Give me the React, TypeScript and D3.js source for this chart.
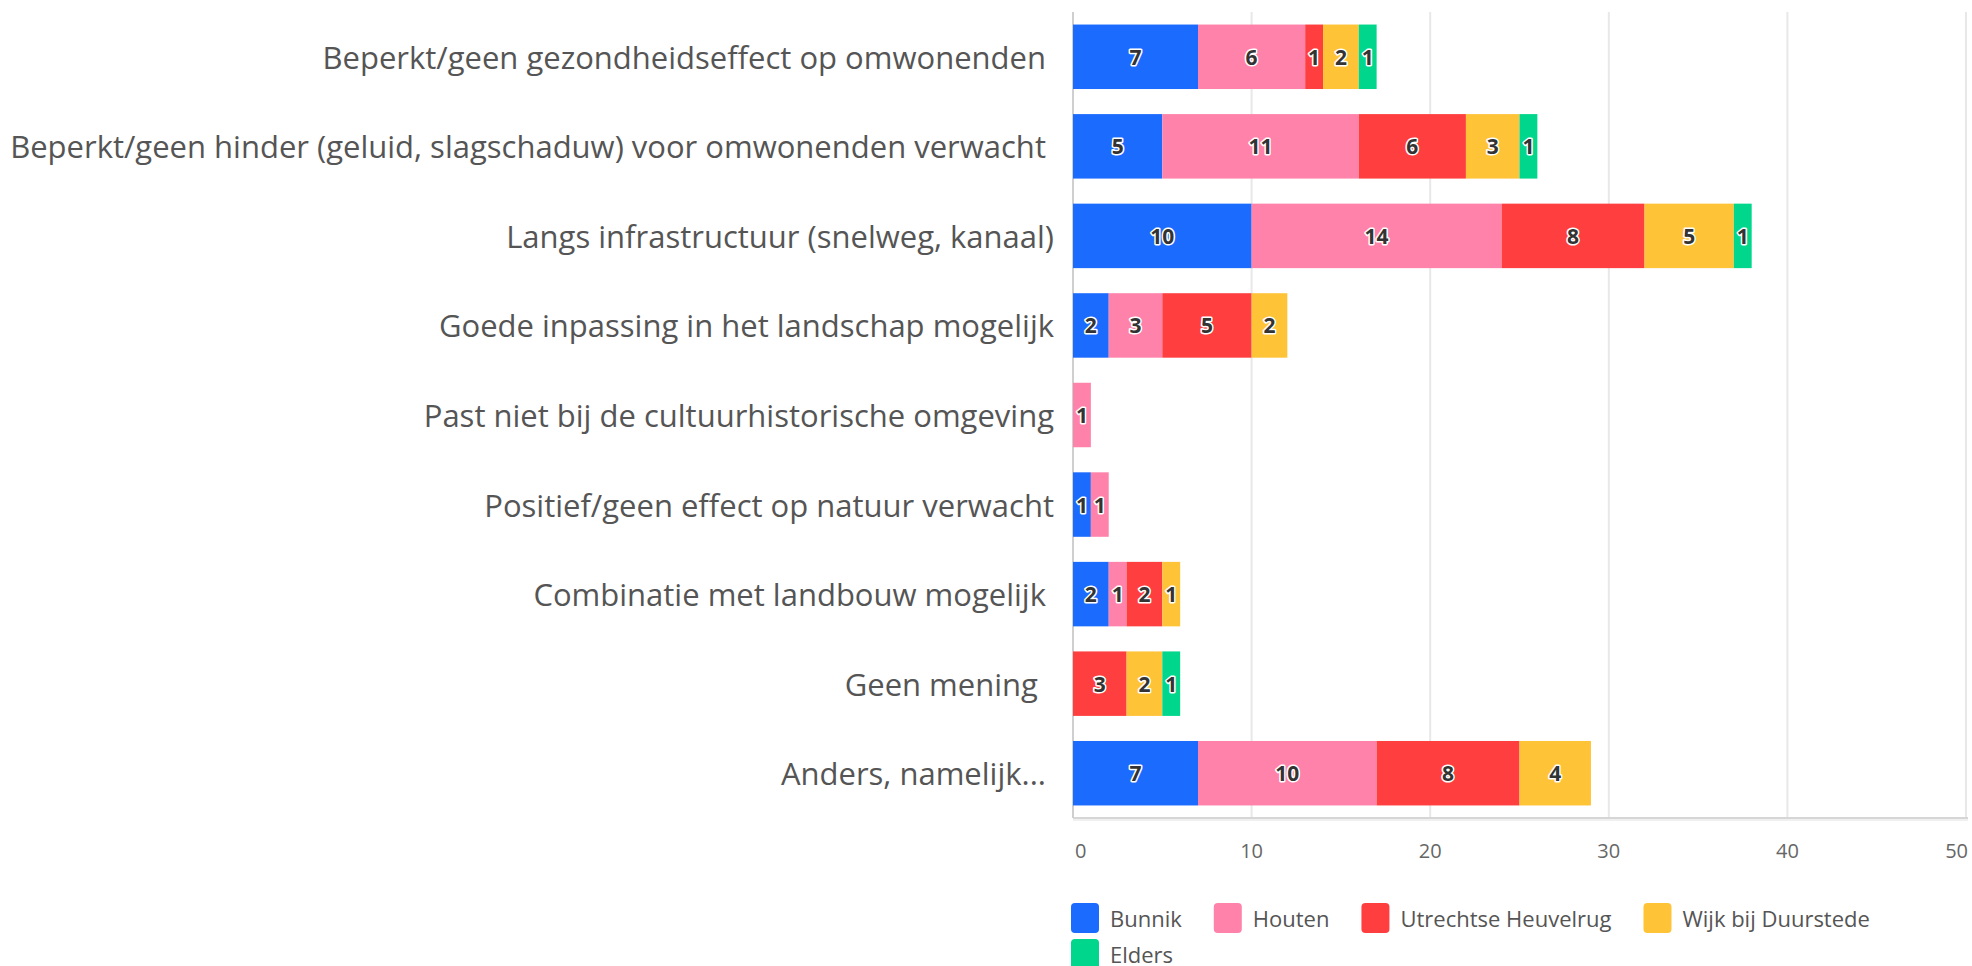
import React from "react";
import * as d3 from "d3";

const categories = [
  "Beperkt/geen gezondheidseffect op omwonenden ",
  "Beperkt/geen hinder (geluid, slagschaduw) voor omwonenden verwacht ",
  "Langs infrastructuur (snelweg, kanaal)",
  "Goede inpassing in het landschap mogelijk",
  "Past niet bij de cultuurhistorische omgeving",
  "Positief/geen effect op natuur verwacht",
  "Combinatie met landbouw mogelijk ",
  "Geen mening  ",
  "Anders, namelijk... ",
];

const seriesNames = ["Bunnik", "Houten", "Utrechtse Heuvelrug", "Wijk bij Duurstede", "Elders"];
const bunnik = [7, 5, 10, 2, 0, 1, 2, 0, 7];
const houten = [6, 11, 14, 3, 1, 1, 1, 0, 10];
const utrechtseHeuvelrug = [1, 6, 8, 5, 0, 0, 2, 3, 8];
const wijkBijDuurstede = [2, 3, 5, 2, 0, 0, 1, 2, 4];
const elders = [1, 1, 1, 0, 0, 0, 0, 1, 0];
const seriesValues = [bunnik, houten, utrechtseHeuvelrug, wijkBijDuurstede, elders];
const seriesColors = ["#1c6bff", "#ff82ab", "#ff3f3f", "#ffc337", "#00d68c"];
const xTicks = [0, 10, 20, 30, 40, 50];

const W = 1972;
const H = 966;
const FONT = "'Open Sans', sans-serif";

function measure(text: string, font: string): number {
  const c = document.createElement("canvas");
  const ctx = c.getContext("2d");
  if (!ctx) return text.length * 11;
  ctx.font = font;
  return ctx.measureText(text).width;
}

export default function App() {
  const x = d3.scaleLinear().domain([0, 50]).range([1073, 1966]);
  const y = d3
    .scaleBand<string>()
    .domain(categories)
    .range([12, 818])
    .paddingInner(0.28)
    .paddingOuter(0.14);

  const rows = categories.map((c, i) => {
    const obj: Record<string, number | string> = { cat: c };
    seriesNames.forEach((s, j) => (obj[s] = seriesValues[j][i]));
    return obj;
  });
  const stacked = d3.stack<Record<string, number | string>>().keys(seriesNames)(rows as any);

  // legend layout
  const legendItems: { name: string; color: string; x: number; y: number }[] = [];
  let lx = 1071;
  let ly = 903;
  seriesNames.forEach((s, i) => {
    const tw = measure(s, `22px ${FONT}`);
    const itemW = 28 + 11 + tw;
    if (lx + itemW > 1966) {
      lx = 1071;
      ly += 36;
    }
    legendItems.push({ name: s, color: seriesColors[i], x: lx, y: ly });
    lx += itemW + 32;
  });

  return (
    <svg
      width={W}
      height={H}
      style={{ position: "absolute", left: 0, top: 0, background: "#fff", fontFamily: FONT }}
    >
      {/* gridlines */}
      {xTicks.slice(1).map((t) => (
        <line key={t} x1={x(t)} x2={x(t)} y1={12} y2={818} stroke="#e8e8e8" strokeWidth={2} />
      ))}
      {/* bottom axis line with subtle shadow */}
      <line x1={1073} x2={1968} y1={820} y2={820} stroke="#f0f0f0" strokeWidth={2} />
      <line x1={1073} x2={1968} y1={818} y2={818} stroke="#d6d6d6" strokeWidth={2} />
      {/* left axis line */}
      <line x1={1073} x2={1073} y1={12} y2={818} stroke="#cfcfcf" strokeWidth={2} />

      {/* bars */}
      {stacked.map((layer, si) => (
        <g key={seriesNames[si]} fill={seriesColors[si]}>
          {layer.map((d, i) =>
            d[1] - d[0] > 0 ? (
              <rect
                key={i}
                x={x(d[0])}
                y={y(categories[i])}
                width={x(d[1]) - x(d[0])}
                height={y.bandwidth()}
              />
            ) : null
          )}
        </g>
      ))}

      {/* data labels */}
      {stacked.map((layer, si) => (
        <g key={"l" + seriesNames[si]}>
          {layer.map((d, i) =>
            d[1] - d[0] > 0 ? (
              <text
                key={i}
                x={(x(d[0]) + x(d[1])) / 2}
                y={(y(categories[i]) as number) + y.bandwidth() / 2}
                textAnchor="middle"
                dominantBaseline="central"
                fontSize={21}
                fontWeight={700}
                fill="#333"
                stroke="#fff"
                strokeWidth={3}
                strokeLinejoin="round"
                paintOrder="stroke"
              >
                {d[1] - d[0]}
              </text>
            ) : null
          )}
        </g>
      ))}

      {/* category labels */}
      {categories.map((c) => (
        <text
          key={c}
          x={1054}
          y={(y(c) as number) + y.bandwidth() / 2}
          textAnchor="end"
          dominantBaseline="central"
          fontSize={31}
          fill="#555"
          style={{ whiteSpace: "pre" }}
        >
          {c}
        </text>
      ))}

      {/* x tick labels */}
      {xTicks.map((t, i) => (
        <text
          key={t}
          x={i === 0 ? x(t) + 2 : i === xTicks.length - 1 ? x(t) + 2 : x(t)}
          y={850}
          textAnchor={i === 0 ? "start" : i === xTicks.length - 1 ? "end" : "middle"}
          dominantBaseline="central"
          fontSize={20}
          fill="#666"
        >
          {t}
        </text>
      ))}

      {/* legend */}
      {legendItems.map((it) => (
        <g key={it.name}>
          <rect x={it.x} y={it.y} width={28} height={30} rx={4} fill={it.color} />
          <text
            x={it.x + 39}
            y={it.y + 15}
            dominantBaseline="central"
            fontSize={22}
            fill="#555"
          >
            {it.name}
          </text>
        </g>
      ))}
    </svg>
  );
}
